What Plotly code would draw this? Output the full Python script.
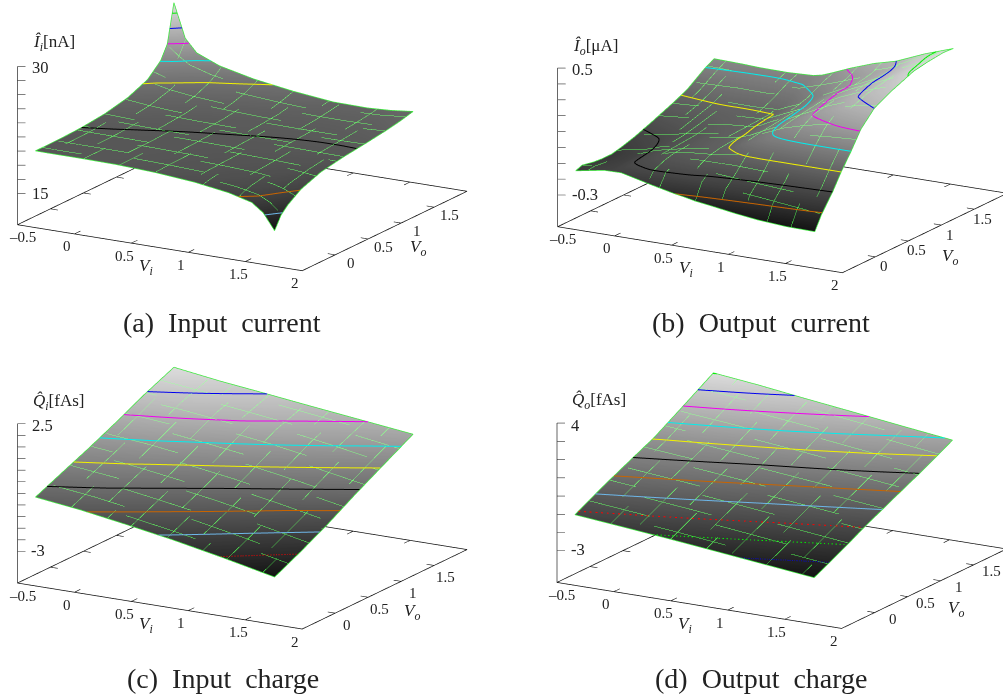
import math
import numpy as np
import plotly.graph_objects as go

# ---------- data ----------
VI_TICKS = [-0.5, 0, 0.5, 1, 1.5, 2]
VO_TICKS = [-0.5, 0, 0.5, 1, 1.5, 2]
VI_TICK_TEXT = ["\u20130.5", "0", "0.5", "1", "1.5", "2"]
VO_TICK_TEXT = ["", "0", "0.5", "1", "1.5", ""]

GRID_A = [-0.4, -0.3, -0.2, 0.0, 0.3, 0.65, 1.0, 1.3, 1.5, 1.6, 1.7]
Z_A = [
    [19.87, 19.85, 19.85, 19.85, 19.8, 19.6, 19.2, 18.6, 17.9, 16.9, 15.0],
    [19.87, 19.86, 19.85, 19.85, 19.8, 19.65, 19.4, 18.95, 18.4, 17.7, 16.5],
    [19.87, 19.87, 19.86, 19.85, 19.82, 19.7, 19.5, 19.15, 18.7, 18.2, 17.3],
    [19.9, 19.88, 19.87, 19.87, 19.85, 19.75, 19.6, 19.4, 19.1, 18.8, 18.4],
    [20.0, 19.97, 19.95, 19.92, 19.88, 19.82, 19.72, 19.6, 19.5, 19.4, 19.3],
    [20.3, 20.25, 20.2, 20.1, 20.03, 19.98, 19.92, 19.88, 19.84, 19.82, 19.8],
    [20.9, 20.75, 20.6, 20.4, 20.25, 20.15, 20.1, 20.08, 20.1, 20.12, 20.15],
    [21.9, 21.6, 21.3, 20.95, 20.65, 20.4, 20.3, 20.3, 20.35, 20.42, 20.5],
    [23.4, 22.8, 22.3, 21.67, 21.15, 20.8, 20.55, 20.5, 20.55, 20.65, 20.8],
    [25.0, 23.9, 23.0, 22.2, 21.55, 21.05, 20.7, 20.6, 20.7, 20.85, 21.0],
    [29.5, 25.5, 24.0, 22.9, 22.0, 21.3, 20.8, 20.75, 20.9, 21.05, 21.2],
]
LEVELS_A = [16.67, 18.33, 20.0, 21.67, 23.33, 25.0, 26.67, 28.33]
COLORS_A = ["lightblue", "orange", "black", "yellow", "cyan", "magenta", "blue", "green"]

VI_B = [-0.4, -0.15, 0.0, 0.25, 0.47, 0.55, 0.65, 0.8, 1.0, 1.2, 1.45, 1.7]
VO_B = [-0.4, -0.3, -0.13, 0.0, 0.15, 0.3, 0.5, 0.75, 1.1, 1.3, 1.55, 1.7]
Z_B = [
    [-0.156, -0.124, -0.122, -0.165, -0.2, -0.21, -0.225, -0.24, -0.262, -0.28, -0.293, -0.296],
    [-0.14, -0.13, -0.105, -0.098, -0.105, -0.11, -0.125, -0.14, -0.155, -0.17, -0.19, -0.21],
    [-0.155, -0.13, -0.095, -0.065, -0.055, -0.055, -0.06, -0.065, -0.075, -0.082, -0.09, -0.1],
    [-0.16, -0.13, -0.09, -0.05, -0.03, -0.03, -0.02, -0.005, 0.0, 0.0, 0.0, 0.0],
    [-0.16, -0.125, -0.085, -0.045, -0.02, -0.015, 0.005, 0.05, 0.09, 0.097, 0.099, 0.1],
    [-0.145, -0.112, -0.08, -0.04, -0.015, -0.008, 0.018, 0.065, 0.125, 0.16, 0.19, 0.21],
    [-0.12, -0.095, -0.07, -0.035, -0.012, -0.002, 0.025, 0.08, 0.146, 0.215, 0.27, 0.3],
    [-0.08, -0.06, -0.045, -0.02, -0.008, 0.008, 0.045, 0.09, 0.165, 0.235, 0.31, 0.355],
    [-0.02, -0.01, -0.005, -0.005, 0.0, 0.03, 0.06, 0.11, 0.19, 0.26, 0.335, 0.415],
    [0.02, 0.03, 0.035, 0.03, 0.04, 0.06, 0.085, 0.125, 0.195, 0.26, 0.345, 0.43],
    [0.095, 0.09, 0.09, 0.09, 0.102, 0.12, 0.14, 0.175, 0.22, 0.27, 0.37, 0.442],
    [0.13, 0.125, 0.12, 0.118, 0.125, 0.137, 0.165, 0.21, 0.262, 0.3, 0.375, 0.4376],
]
LEVELS_B = [-0.2, -0.1, 0.0, 0.1, 0.2, 0.3, 0.4]
COLORS_B = ["orange", "black", "yellow", "cyan", "magenta", "blue", "green"]

GRID_CD = [-0.4, 0.0, 0.4, 0.8, 1.25, 1.7]
Z_C = [
    [-0.72, -0.96, -1.27, -1.6, -2.03, -2.5],
    [-0.22, -0.44, -0.74, -1.06, -1.48, -1.94],
    [0.27, 0.07, -0.21, -0.51, -0.9, -1.33],
    [0.8, 0.62, 0.38, 0.11, -0.25, -0.65],
    [1.44, 1.28, 1.05, 0.81, 0.46, 0.07],
    [2.0, 1.73, 1.51, 1.28, 1.03, 0.78],
]
LEVELS_C = [-2.0, -1.5, -1.0, -0.5, 0.0, 0.5, 1.0, 1.5]
COLORS_C = ["red", "lightblue", "orange", "black", "yellow", "cyan", "magenta", "blue"]

Z_D = [
    [-1.1, -1.33, -1.57, -1.83, -2.13, -2.43],
    [-0.33, -0.57, -0.81, -1.08, -1.39, -1.7],
    [0.36, 0.14, -0.09, -0.35, -0.63, -0.92],
    [1.04, 0.83, 0.59, 0.35, 0.08, -0.2],
    [2.02, 1.79, 1.54, 1.28, 0.95, 0.59],
    [3.02, 2.75, 2.43, 2.13, 1.78, 1.45],
]
LEVELS_D = [-2.0, -1.5, -1.0, -0.5, 0.0, 0.5, 1.0, 1.5, 2.0, 2.5, 3.0]
COLORS_D = ["dblue", "dgreen", "red", "lightblue", "orange", "black", "yellow", "cyan",
            "magenta", "blue", "green"]

ZTICKS_A = [15 + i * 15 / 9 for i in range(10)]
ZTICKS_B = [-0.3 + i * 0.1 for i in range(9)]
ZTICKS_C = [-3 + i * 0.5 for i in range(12)]
ZTICKS_D = [-3 + i for i in range(8)]

PALETTE = dict(red="#ff0000", green="#00ee00", blue="#0000ee", dgreen="#00ee00", dblue="#0000ee",
               lightblue="#6db6e8", orange="#c86400", black="#000000", yellow="#f2f200",
               cyan="#00eeee", magenta="#f000f0")
DASHED = {"red", "dgreen", "dblue"}

# ---------- view ----------
FONT = "Liberation Serif"
THETA = math.atan2(165, 285)
ELEV = math.asin(46 / (329 * math.sin(THETA)))
PX = 329.0            # pixels per Vi/Vo axis length
WORLD_PX = 174.5      # pixels per world unit of the orthographic scene
DIST = 4.0
R = np.array([math.cos(THETA), math.sin(THETA), 0.0])
U = np.array([-math.sin(ELEV) * math.sin(THETA), math.sin(ELEV) * math.cos(THETA), math.cos(ELEV)])
E = np.array([math.cos(ELEV) * math.sin(THETA), -math.cos(ELEV) * math.cos(THETA), math.sin(ELEV)])
LOW, HIGH = -0.5, 2.0
PAD = 0.02            # keeps the axis lines inside the scene's clip box
MESH = 0.105
MESH_LINES = [-0.4 + i * MESH for i in range(21)]
DEPTH = 0.04          # lines float this far towards the camera, invisibly in an orthographic view

fig = go.Figure()
annotations = []


def line3d(xs, ys, zs, sid, color, width, dash=None):
    fig.add_trace(go.Scatter3d(x=xs, y=ys, z=zs, mode="lines", scene=sid, showlegend=False,
                               hoverinfo="skip", connectgaps=False,
                               line=dict(color=color, width=width, dash=dash or "solid")))


def contour_paths(vi, vo, z, level):
    """Marching squares over the table, stitched into polylines of (Vi, Vo)."""
    adj = {}
    pts = {}

    def cross(key, p, q, a, b):
        t = (level - p) / (q - p)
        pts[key] = (a[0] + t * (b[0] - a[0]), a[1] + t * (b[1] - a[1]))

    for i in range(len(vo) - 1):
        for j in range(len(vi) - 1):
            cs = [((i, j), (i, j + 1)), ((i, j + 1), (i + 1, j + 1)),
                  ((i + 1, j), (i + 1, j + 1)), ((i, j), (i + 1, j))]
            found = []
            for a, b in cs:
                p, q = z[a[0]][a[1]], z[b[0]][b[1]]
                if (p < level) != (q < level):
                    key = (a, b)
                    cross(key, p, q, (vi[a[1]], vo[a[0]]), (vi[b[1]], vo[b[0]]))
                    found.append(key)
            for k in range(0, len(found) - 1, 2):
                adj.setdefault(found[k], []).append(found[k + 1])
                adj.setdefault(found[k + 1], []).append(found[k])
    paths = []
    seen = set()
    starts = [k for k, v in adj.items() if len(v) == 1] + list(adj)
    for s in starts:
        if s in seen:
            continue
        path = [s]
        seen.add(s)
        cur = s
        while True:
            nxt = [n for n in adj[cur] if n not in seen]
            if not nxt:
                break
            cur = nxt[0]
            seen.add(cur)
            path.append(cur)
        paths.append([pts[k] for k in path])
    return paths


def chaikin(path, passes=2):
    for _ in range(passes):
        if len(path) < 3:
            return path
        out = [path[0]]
        for a, b in zip(path, path[1:]):
            out.append((0.75 * a[0] + 0.25 * b[0], 0.75 * a[1] + 0.25 * b[1]))
            out.append((0.25 * a[0] + 0.75 * b[0], 0.25 * a[1] + 0.75 * b[1]))
        out.append(path[-1])
        path = out
    return path


def panel(sid, dom_x, dom_y, origin, vi, vo, z, levels, colors,
          zticks, zlab, zbase, ztop, zheight, zoffs, title, title_shift, vo_off, vo_lab_off, caption,
          cap_xy):
    zr = ztop - zbase
    zarr = np.array(z)
    span = HIGH - LOW + 2 * PAD
    k = PX / WORLD_PX * span / (HIGH - LOW)
    zpad = zr * 0.02
    az = zheight / math.cos(ELEV) / WORLD_PX * 1.04
    off = DEPTH * E * np.array([span / k, span / k, (zr + 2 * zpad) / az])

    def float_line(xs, ys, zs, color, width, dash=None):
        line3d([None if a is None else a + off[0] for a in xs],
               [None if a is None else a + off[1] for a in ys],
               [None if a is None else a + off[2] for a in zs], sid, color, width, dash)

    fig.add_trace(go.Surface(
        x=vi, y=vo, z=z, scene=sid, showscale=False, hoverinfo="skip",
        surfacecolor=z, cmin=zarr.min(), cmax=zarr.max(),
        colorscale=[[0, "#141414"], [1, "#dcdcdc"]],
        lighting=dict(ambient=1, diffuse=0, specular=0, roughness=1, fresnel=0),
    ))
    # mesh
    mx, my, mz = [], [], []
    for v in MESH_LINES:
        mx += [v] * len(vo) + [None]
        my += list(vo) + [None]
        mz += [float(np.interp(v, vi, row)) for row in zarr] + [None]
        mx += list(vi) + [None]
        my += [v] * len(vi) + [None]
        mz += [float(np.interp(v, vo, zarr[:, j])) for j in range(len(vi))] + [None]
    float_line(mx, my, mz, "rgba(60,225,60,0.5)", 1, "dash")
    # contour levels
    for lev, col in zip(levels, colors):
        for path in contour_paths(vi, vo, z, lev):
            path = chaikin(path)
            float_line([p[0] for p in path], [p[1] for p in path], [lev] * len(path),
                       PALETTE[col], 2, "dash" if col in DASHED else None)
    edge = "#3fe83f"
    float_line(list(vi), [vo[0]] * len(vi), list(zarr[0]), edge, 1.5)
    float_line(list(vi), [vo[-1]] * len(vi), list(zarr[-1]), edge, 1.5)
    float_line([vi[0]] * len(vo), list(vo), list(zarr[:, 0]), edge, 1.5)
    float_line([vi[-1]] * len(vo), list(vo), list(zarr[:, -1]), edge, 1.5)
    # floor frame and ticks
    line3d([LOW, HIGH, HIGH, LOW, LOW], [LOW, LOW, HIGH, HIGH, LOW], [zbase] * 5, sid, "#111", 1.5)
    for t in VI_TICKS[1:-1]:
        line3d([t, t], [LOW, LOW + 0.09], [zbase, zbase], sid, "#111", 1.2)
        line3d([t, t], [HIGH, HIGH - 0.09], [zbase, zbase], sid, "#111", 1.2)
    for t in VO_TICKS[1:-1]:
        line3d([LOW, LOW + 0.065], [t, t], [zbase, zbase], sid, "#111", 1.2)
        line3d([HIGH, HIGH - 0.065], [t, t], [zbase, zbase], sid, "#111", 1.2)
    line3d([LOW, LOW], [LOW, LOW], [zbase, ztop], sid, "#333", 1.5)
    for t in zticks:
        line3d([LOW, LOW + 0.053], [LOW, LOW + 0.030], [t, t], sid, "#333", 1.2)

    sa = []
    def note(x, y, zv, text, dx, dy, size, anchor="center"):
        sa.append(dict(x=x, y=y, z=zv, text=text, showarrow=False, xshift=dx, yshift=-dy, xanchor=anchor,
                       yanchor="middle", font=dict(family=FONT, size=size, color="#222")))
    for t, s in zip(VI_TICKS, VI_TICK_TEXT):
        note(t, LOW, zbase, s, -7 if t > LOW else 5, 12.5, 15)
    for t, s in zip(VO_TICKS, VO_TICK_TEXT):
        if s:
            note(HIGH, t, zbase, s, vo_off[0], vo_off[1], 15)
    note(0.65, LOW, zbase, "<i>V</i><sub><i>i</i></sub>", -2, 21, 17)
    note(HIGH, 1.0, zbase, "<i>V</i><sub><i>o</i></sub>", vo_lab_off[0], vo_lab_off[1], 17)
    for tv, s, o in zip(zlab[0], zlab[1], zoffs):
        note(LOW, LOW, tv, s, o[0], o[1], 16.5)
    note(LOW, LOW, ztop, title, 14, -title_shift, 17, "left")

    # camera: the box centre goes to its spot of the page
    cx = (dom_x[0] + dom_x[1]) * 1003 / 2
    cy = (1 - (dom_y[0] + dom_y[1]) / 2) * 698
    tx = origin[0] + 225.0
    ty = origin[1] - 17.0 - zheight / 2
    c = ((cx - tx) * R - (cy - ty) * U) / WORLD_PX
    eye = c + DIST * E
    fig.layout[sid] = dict(
        domain=dict(x=list(dom_x), y=list(dom_y)),
        xaxis=dict(visible=False, range=[LOW - PAD, HIGH + PAD]),
        yaxis=dict(visible=False, range=[LOW - PAD, HIGH + PAD]),
        zaxis=dict(visible=False, range=[zbase - zpad, ztop + zpad]),
        aspectmode="manual",
        aspectratio=dict(x=k, y=k, z=az),
        bgcolor="white",
        camera=dict(projection=dict(type="orthographic"),
                    up=dict(x=0, y=0, z=1),
                    center=dict(x=c[0], y=c[1], z=c[2]),
                    eye=dict(x=eye[0], y=eye[1], z=eye[2])),
        annotations=sa,
    )
    annotations.append(dict(x=cap_xy[0] / 1003, y=1 - cap_xy[1] / 698, xref="paper", yref="paper", showarrow=False,
                            xanchor="center", yanchor="middle",
                            text=caption, font=dict(family=FONT, size=28, color="#222")))


panel("scene", (0, 0.5), (0.5, 1), (17, 225), GRID_A, GRID_A, Z_A, LEVELS_A, COLORS_A,
      ZTICKS_A, ([30, 15], ["30", "15"]), 11.3, 30, 158.3, [(23, 1), (23, 0)],
      "<i>\u00ce</i><sub><i>i</i></sub>[nA]", 23, (16, 8), (17, 25), "(a)\u00a0 Input\u00a0 current", (222, 322))
panel("scene2", (0.5, 1), (0.5, 1), (556.7, 227), VI_B, VO_B, Z_B, LEVELS_B, COLORS_B,
      ZTICKS_B, ([0.5, -0.3], ["0.5", "-0.3"]), -0.5, 0.5, 158.7, [(25, 1.7), (27.6, 0)],
      "<i>\u00ce</i><sub><i>o</i></sub>[\u03bcA]", 20.6, (9.5, 9.5), (10, 32), "(b)\u00a0 Output\u00a0 current", (761, 322))
panel("scene3", (0, 0.5), (0, 0.5), (17, 583.3), GRID_CD, GRID_CD, Z_C, LEVELS_C, COLORS_C,
      ZTICKS_C, ([2.5, -3], ["2.5", "-3"]), -4.365, 2.5, 159.3, [(25, 2), (21, -1)],
      "<i>Q\u0302</i><sub><i>i</i></sub>[fAs]", 22, (12, 11.7), (11.6, 31), "(c)\u00a0 Input\u00a0 charge", (222.7, 678))
panel("scene4", (0.5, 1), (0, 0.5), (556, 582.7), GRID_CD, GRID_CD, Z_D, LEVELS_D, COLORS_D,
      ZTICKS_D, ([4, -3], ["4", "-3"]), -4.737, 4, 159.4, [(19, 2), (21.7, -1)],
      "<i>Q\u0302</i><sub><i>o</i></sub>[fAs]", 21.6, (19, 6.2), (16.6, 28), "(d)\u00a0 Output\u00a0 charge", (761.7, 678))

fig.update_layout(width=1003, height=698, margin=dict(l=0, r=0, t=0, b=0), paper_bgcolor="white",
                  showlegend=False, annotations=annotations, font=dict(family=FONT))
fig.write_html("out.html", config=dict(displayModeBar=False),
               post_script="document.body.style.margin='0';document.documentElement.style.overflow='hidden';")
